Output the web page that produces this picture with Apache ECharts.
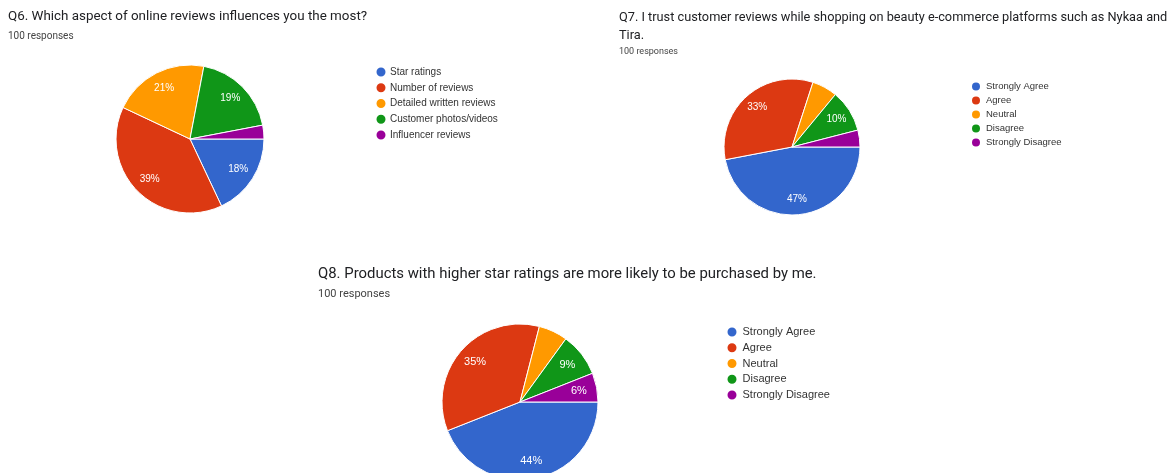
<!DOCTYPE html>
<html>
<head>
<meta charset="utf-8">
<script src="https://cdn.jsdelivr.net/npm/echarts@6/dist/echarts.min.js"></script>
<style>
  html, body { margin: 0; padding: 0; background: #ffffff; }
  #chart { width: 1174px; height: 473px; }
</style>
</head>
<body>
<div id="chart"></div>
<script>
// Survey results: three Google-Forms style pie charts.
const palette = ['#3366cc', '#dc3912', '#ff9900', '#109618', '#990099'];

const q6Title = 'Q6. Which aspect of online reviews influences you the most?';
const q7Title = 'Q7. I trust customer reviews while shopping on beauty e-commerce platforms such as Nykaa and\nTira.';
const q8Title = 'Q8. Products with higher star ratings are more likely to be purchased by me.';
const responsesText = '100 responses';

const q6Categories = ['Star ratings', 'Number of reviews', 'Detailed written reviews', 'Customer photos/videos', 'Influencer reviews'];
const q6Values = [18, 39, 21, 19, 3];
const q6Unlabeled = ['Influencer reviews'];

const likertCategories = ['Strongly Agree', 'Agree', 'Neutral', 'Disagree', 'Strongly Disagree'];
const q7Values = [47, 33, 6, 10, 4];
const q7Unlabeled = ['Neutral', 'Strongly Disagree'];
const q8Values = [44, 35, 6, 9, 6];
const q8Unlabeled = ['Neutral'];

const chart = echarts.init(document.getElementById('chart'), null, { renderer: 'canvas' });

function sliceData(categories, values, unlabeled, forLabels) {
  return categories.map((name, i) => ({
    name,
    value: values[i],
    itemStyle: forLabels ? { color: 'rgba(0,0,0,0)', borderWidth: 0 } : { color: palette[i] },
    label: { show: forLabels && unlabeled.indexOf(name) < 0 }
  }));
}

// Each pie is drawn twice: the coloured slices, then a transparent ring
// whose mid radius places the percentage labels further out from the centre.
function pieSeries(categories, values, unlabeled, center, r, fontSize) {
  return [
    {
      type: 'pie',
      center,
      radius: [0, r],
      startAngle: 0,
      clockwise: true,
      percentPrecision: 0,
      label: { show: false },
      labelLine: { show: false },
      itemStyle: { borderColor: '#ffffff', borderWidth: 1 },
      emphasis: { scale: false },
      data: sliceData(categories, values, unlabeled, false)
    },
    {
      type: 'pie',
      center,
      radius: [r * 0.46, r],
      startAngle: 0,
      clockwise: true,
      silent: true,
      legendHoverLink: false,
      percentPrecision: 0,
      label: {
        position: 'inside',
        formatter: '{d}%',
        color: '#ffffff',
        fontFamily: 'Liberation Sans, Arial, sans-serif',
        fontSize
      },
      labelLine: { show: false },
      emphasis: { disabled: true },
      data: sliceData(categories, values, unlabeled, true)
    }
  ];
}

function legendFor(categories, left, top, gap, fontSize, iconSize, textShift) {
  return {
    orient: 'vertical',
    left, top,
    padding: 0,
    icon: 'circle',
    itemWidth: iconSize,
    itemHeight: iconSize,
    itemGap: gap,
    selectedMode: false,
    data: categories.map((name, i) => ({ name, itemStyle: { color: palette[i] } })),
    textStyle: {
      color: '#333333',
      fontFamily: 'Liberation Sans, Arial, sans-serif',
      fontSize,
      padding: [0, 0, 0, textShift]
    }
  };
}

function heading(text, left, top, fontSize, lineHeight) {
  return {
    text, left, top, padding: 0,
    textStyle: {
      color: '#202124', fontWeight: 'normal',
      fontFamily: 'Roboto, sans-serif', fontSize, lineHeight
    }
  };
}

function responses(left, top, fontSize) {
  return {
    text: responsesText, left, top, padding: 0,
    textStyle: {
      color: '#444444', fontWeight: 'normal',
      fontFamily: 'Roboto, sans-serif', fontSize, lineHeight: fontSize + 2
    }
  };
}

chart.setOption({
  animation: false,
  backgroundColor: '#ffffff',
  title: [
    heading(q6Title, 8, 9, 13.4, 16),
    responses(8, 30, 10),
    heading(q7Title, 619, 9, 12.75, 18),
    responses(619, 46, 9),
    heading(q8Title, 318, 266, 14.9, 17),
    responses(318, 288, 11)
  ],
  legend: [
    legendFor(q6Categories, 374.5, 65.5, 2.75, 10, 11, -1.5),
    legendFor(likertCategories, 970, 80.5, 2, 9.5, 10, 0),
    legendFor(likertCategories, 725.5, 325.5, 2.75, 11, 11, 0)
  ],
  series: [
    ...pieSeries(q6Categories, q6Values, q6Unlabeled, [190, 139], 74, 10),
    ...pieSeries(likertCategories, q7Values, q7Unlabeled, [792, 147], 68, 10),
    ...pieSeries(likertCategories, q8Values, q8Unlabeled, [520, 402], 78, 11)
  ]
});
</script>
</body>
</html>
